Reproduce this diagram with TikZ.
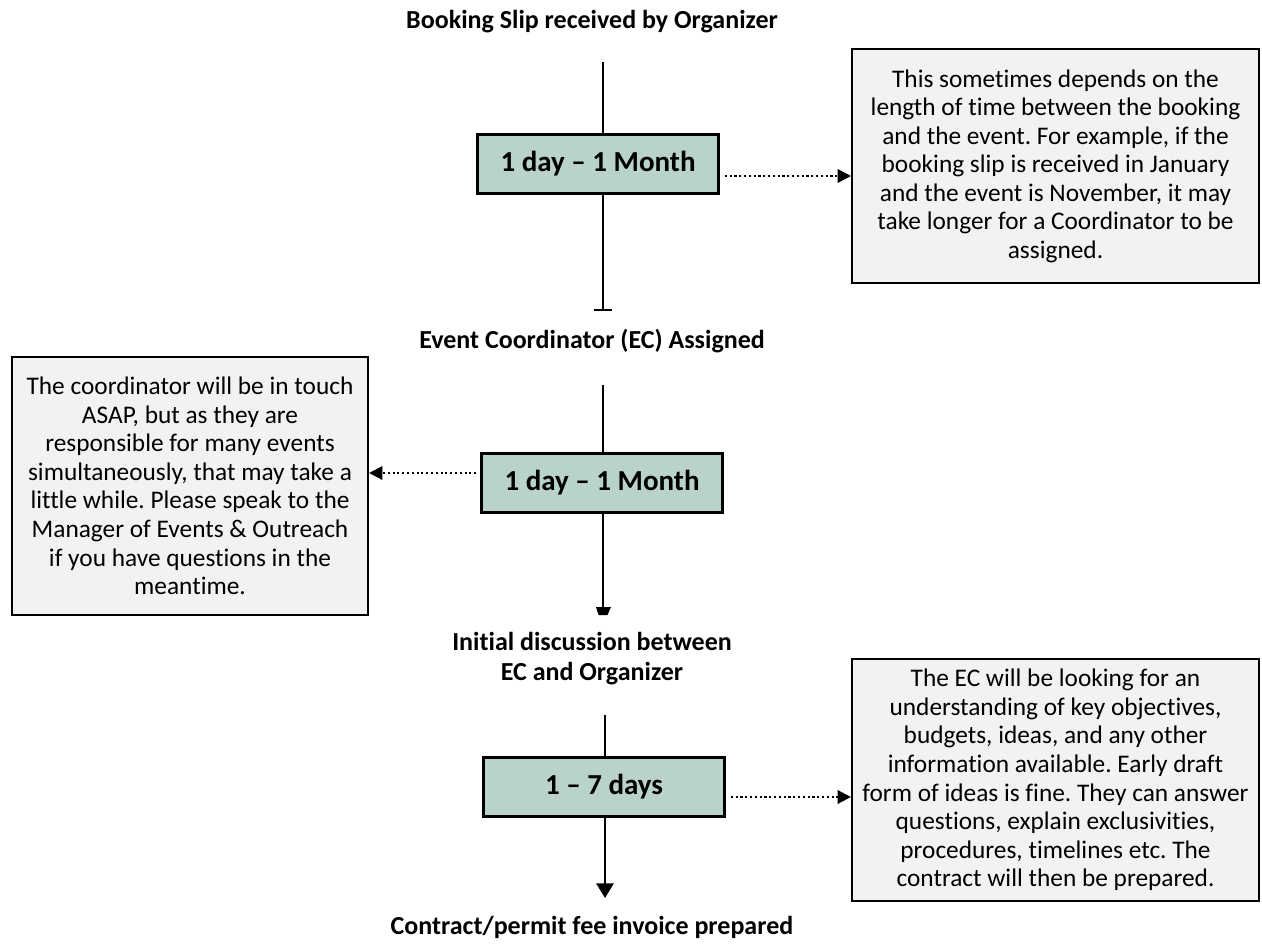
\documentclass[tikz,border=0pt]{standalone}
\usepackage{fontspec}
\setmainfont{Carlito}[Ligatures={NoCommon}]
\usetikzlibrary{arrows.meta}
\definecolor{boxfill}{RGB}{185,211,203}
\definecolor{notefill}{RGB}{242,242,242}
\frenchspacing
\begin{document}
\begin{tikzpicture}[x=0.75pt,y=-0.75pt,
  title/.style={font=\fontsize{19.5}{22.5}\selectfont\bfseries, align=center, inner sep=0pt},
  stepbox/.style={draw=black, line width=1.9pt, fill=boxfill, minimum width=180.75pt, minimum height=44.25pt, font=\fontsize{21.75}{25}\selectfont\bfseries, inner sep=0pt},
  notebox/.style={draw=black, line width=1.5pt, fill=notefill, align=center, font=\fontsize{19}{21.4}\selectfont, inner sep=0pt},
  flow/.style={line width=1.5pt},
  dotarrow/.style={line width=1.6pt, dash pattern=on 1.6pt off 2pt, -{Triangle[length=10pt,width=10pt]}}]
\useasboundingbox (0,0) rectangle (1262,950);

% titles
\node[title] (t1) at (592,22) {Booking Slip received by Organizer};
\node[title] (t2) at (592,341) {Event Coordinator (EC) Assigned};
\node[title] (t3) at (592,659) {Initial discussion between\\EC and Organizer};
\node[title] (t4) at (592,927) {Contract/permit fee invoice prepared};

% step boxes
\node[stepbox] (b1) at (598,164) {1 day -- 1 Month};
\node[stepbox] (b3) at (602,483) {1 day -- 1 Month};
\node[stepbox] (b5) at (604,787) {1 -- 7 days};

% notes
\node[notebox, minimum width=305.25pt, minimum height=176pt] (n1) at (1055.5,166)
  {This sometimes depends on the\\length of time between the booking\\and the event. For example, if the\\booking slip is received in January\\and the event is November, it may\\take longer for a Coordinator to be\\assigned.};
\node[notebox, minimum width=267pt, minimum height=193pt] (n2) at (190,486)
  {The coordinator will be in touch\\ASAP, but as they are\\responsible for many events\\simultaneously, that may take a\\little while. Please speak to the\\Manager of Events \& Outreach\\if you have questions in the\\meantime.};
\node[notebox, minimum width=305.25pt, minimum height=182pt] (n3) at (1055.5,780)
  {The EC will be looking for an\\understanding of key objectives,\\budgets, ideas, and any other\\information available. Early draft\\form of ideas is fine. They can answer\\questions, explain exclusivities,\\procedures, timelines etc. The\\contract will then be prepared.};

% flow line 1
\coordinate (a1) at (603,62);
\coordinate (e1) at (603,311);
\draw[flow] (a1) -- (a1 |- b1.north);
\draw[flow, -{Bar[width=13pt]}] (a1 |- b1.south) -- (e1);

% flow line 2
\coordinate (a2) at (603,385);
\coordinate (e2) at (603,608);
\draw[flow] (a2) -- (a2 |- b3.north);
\draw[flow] (a2 |- b3.south) -- (e2);
\fill (596,607) -- (611,607) -- (607.5,615) -- (598.5,615) -- cycle;

% flow line 3
\coordinate (a3) at (605,715);
\coordinate (e3) at (605,898);
\draw[flow] (a3) -- (a3 |- b5.north);
\draw[flow, -{Triangle[length=11pt,width=13pt]}] (a3 |- b5.south) -- (e3);

% dotted arrows
\path (b1.east) ++(5,12) coordinate (d1);
\draw[dotarrow] (d1) -- (d1 -| n1.west);
\path (b3.west) ++(-4,-10) coordinate (d2);
\draw[dotarrow] (d2) -- (d2 -| n2.east);
\path (b5.east) ++(5,10) coordinate (d3);
\draw[dotarrow] (d3) -- (d3 -| n3.west);
\end{tikzpicture}
\end{document}
